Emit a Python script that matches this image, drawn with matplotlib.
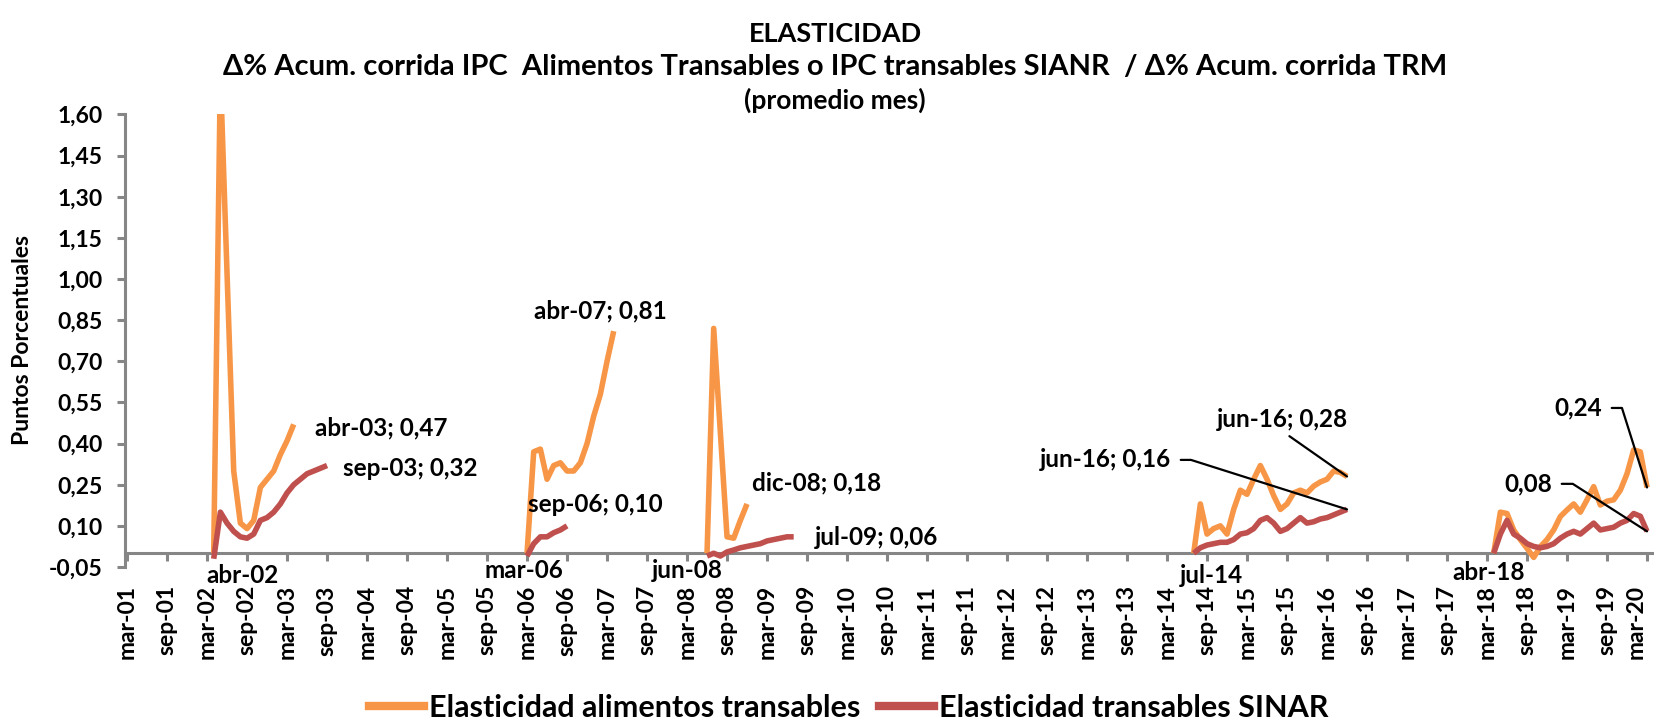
import math
import matplotlib
matplotlib.use("agg")
import matplotlib.pyplot as plt
from matplotlib.lines import Line2D

# Categorias mensuales: mar-01 ... mar-20
meses = ["ene", "feb", "mar", "abr", "may", "jun", "jul", "ago", "sep", "oct", "nov", "dic"]
fechas = [f"{meses[m % 12]}-{m // 12:02d}" for m in range(14, 243)]
etiquetas_x = fechas[::6]
valores_y = [-0.05, 0.10, 0.25, 0.40, 0.55, 0.70, 0.85, 1.00, 1.15, 1.30, 1.45, 1.60]

# Cada tramo empieza en el mes indicado
inicio = ["abr-02", "mar-06", "jun-08", "jul-14", "abr-18"]

alimentos = [
    [0.00, 1.75, 1.02, 0.30, 0.11, 0.09, 0.12, 0.24, 0.27, 0.30, 0.36, 0.41, 0.47],
    [0.00, 0.37, 0.38, 0.27, 0.32, 0.33, 0.30, 0.30, 0.33, 0.40, 0.50, 0.58, 0.70, 0.81],
    [0.00, 0.82, 0.44, 0.06, 0.055, 0.12, 0.18],
    [0.00, 0.18, 0.07, 0.09, 0.10, 0.07, 0.16, 0.23, 0.215, 0.27, 0.32, 0.27,
     0.21, 0.16, 0.18, 0.22, 0.23, 0.22, 0.245, 0.26, 0.27, 0.30, 0.295, 0.28],
    [0.00, 0.15, 0.145, 0.085, 0.05, 0.018, -0.015, 0.024, 0.05, 0.085, 0.134, 0.158,
     0.18, 0.15, 0.195, 0.243, 0.176, 0.19, 0.195, 0.23, 0.29, 0.377, 0.37, 0.24],
]

sinar = [
    [-0.02, 0.15, 0.11, 0.08, 0.06, 0.055, 0.07, 0.12, 0.13, 0.15, 0.18, 0.22,
     0.25, 0.27, 0.29, 0.30, 0.31, 0.32],
    [-0.01, 0.035, 0.06, 0.06, 0.075, 0.085, 0.10],
    [-0.01, 0.00, -0.01, 0.005, 0.012, 0.02, 0.025, 0.03, 0.035, 0.045, 0.05, 0.055, 0.06, 0.06],
    [0.00, 0.02, 0.03, 0.035, 0.04, 0.04, 0.05, 0.07, 0.075, 0.09, 0.12, 0.13,
     0.11, 0.08, 0.09, 0.11, 0.13, 0.11, 0.115, 0.125, 0.13, 0.14, 0.15, 0.16],
    [0.00, 0.07, 0.12, 0.07, 0.055, 0.035, 0.025, 0.02, 0.025, 0.035, 0.055, 0.07,
     0.08, 0.07, 0.09, 0.11, 0.085, 0.09, 0.095, 0.11, 0.12, 0.145, 0.135, 0.08],
]

NARANJA = "#F79646"
ROJO = "#C0504D"
GRIS = "#868686"

plt.rcParams["font.family"] = ["Lato", "DejaVu Sans"]
plt.rcParams["font.weight"] = "bold"

fig = plt.figure(figsize=(16.54, 7.21), dpi=100)
ax = fig.add_axes([0.0756, 0.2136, 0.9232, 0.6276])

for k, mes in enumerate(inicio):
    i0 = fechas.index(mes)
    xs_a = list(range(i0, i0 + len(alimentos[k])))
    xs_s = list(range(i0, i0 + len(sinar[k])))
    ax.plot(xs_a, alimentos[k], color=NARANJA, lw=4, solid_capstyle="butt", zorder=3)
    ax.plot(xs_s, sinar[k], color=ROJO, lw=4, solid_capstyle="butt", zorder=4)

# ejes (la posicion del eje x se fija antes de dar formato a los ticks)
for lado in ["top", "right"]:
    ax.spines[lado].set_visible(False)
for lado in ["left", "bottom"]:
    ax.spines[lado].set_color(GRIS)
    ax.spines[lado].set_linewidth(2.2)
ax.spines["bottom"].set_position(("data", 0))
ax.spines["bottom"].set_zorder(2)

ax.set_xlim(-0.3, 228.75)
ax.set_ylim(-0.05, 1.60)
ax.set_xticks(range(0, len(fechas), 6))
ax.set_xticklabels(etiquetas_x)
ax.set_yticks(valores_y)
ax.set_yticklabels([f"{v:.2f}".replace(".", ",") for v in valores_y])
ax.tick_params(axis="x", direction="out", length=6, width=2.2, color=GRIS, pad=17,
               labelrotation=90, labelsize=16.5)
ax.tick_params(axis="y", direction="out", length=6, width=2.2, color=GRIS, pad=10,
               labelsize=16.5)
for t in ax.get_xticklabels() + ax.get_yticklabels():
    t.set_fontweight("bold")
# la ultima etiqueta queda pegada al borde: se alinea a la derecha del tick
ax.get_xticklabels()[-1].set_horizontalalignment("right")

lbl = dict(fontsize=17.5, fontweight="bold", va="center", annotation_clip=False, zorder=6)


def etiqueta(x, y, texto, dx, dy, ha="left", codo=None, desde_abajo=False):
    # etiqueta de datos desplazada en pixeles desde el punto
    props = None
    if codo is not None:
        ang = math.degrees(math.atan2(codo[1], codo[0]))
        props = dict(arrowstyle="-", color="black", lw=1.6, shrinkA=5, shrinkB=0,
                     relpos=(1, 0.5), connectionstyle=f"angle,angleA=0,angleB={ang:.1f},rad=0")
    elif desde_abajo:
        props = dict(arrowstyle="-", color="black", lw=1.6, shrinkA=3, shrinkB=0,
                     relpos=(0.5, 0), connectionstyle="arc3,rad=0")
    ax.annotate(texto, (x, y), xytext=(dx, dy), textcoords="offset pixels", ha=ha,
                arrowprops=props, **lbl)


def fmt(v):
    return f"{v:.2f}".replace(".", ",")


# etiquetas de inicio de tramo (bajo el eje)
inicio_off = [(-7, -22, "left"), (-3, -17, "center"), (-20, -17, "center"),
              (18, -22, "center"), (-5, -19, "center")]
for k, mes in enumerate(inicio):
    dx, dy, ha = inicio_off[k]
    etiqueta(fechas.index(mes), 0, mes, dx, dy, ha=ha)

# etiquetas de fin de tramo
fin_a = [dict(dx=21, dy=-3.5), dict(dx=-13, dy=20, ha="center"), dict(dx=5, dy=21),
         dict(dx=-65, dy=57, ha="center", desde_abajo=True),
         dict(dx=-45, dy=79.5, ha="right", codo=(-25, 79.5))]
fin_s = [dict(dx=16, dy=-2.5), dict(dx=28, dy=21, ha="center"), dict(dx=21, dy=-1),
         dict(dx=-176, dy=49.5, ha="right", codo=(-156, 49.5)),
         dict(dx=-95, dy=47.5, ha="right", codo=(-75, 48))]
for k, mes in enumerate(inicio):
    i0 = fechas.index(mes)
    for serie, opts in ((alimentos, fin_a), (sinar, fin_s)):
        j = i0 + len(serie[k]) - 1
        v = serie[k][-1]
        texto = fmt(v) if k == 4 else f"{fechas[j]}; {fmt(v)}"
        etiqueta(j, v, texto, **opts[k])

# titulo
fig.text(0.505, 1 - 34 / 721, "ELASTICIDAD", ha="center", va="center", fontsize=19.5, fontweight="bold")
fig.text(0.505, 1 - 67 / 721,
         "Δ% Acum. corrida IPC  Alimentos Transables o IPC transables SIANR  / Δ% Acum. corrida TRM",
         ha="center", va="center", fontsize=21, fontweight="bold")
fig.text(0.505, 1 - 100 / 721, "(promedio mes)", ha="center", va="center", fontsize=19, fontweight="bold")

fig.text(23 / 1654, 1 - 340 / 721, "Puntos Porcentuales", rotation=90, ha="center", va="center",
         fontsize=16.5, fontweight="bold")

handles = [Line2D([], [], color=NARANJA, lw=6), Line2D([], [], color=ROJO, lw=6)]
fig.legend(handles, ["Elasticidad alimentos transables", "Elasticidad transables SINAR"],
           loc="center", bbox_to_anchor=(0.513, 1 - 708 / 721), ncol=2, frameon=False,
           prop=dict(size=22, weight="bold"), handlelength=1.8, handletextpad=0.17,
           columnspacing=0.6)

fig.savefig("out.png", dpi=100)
